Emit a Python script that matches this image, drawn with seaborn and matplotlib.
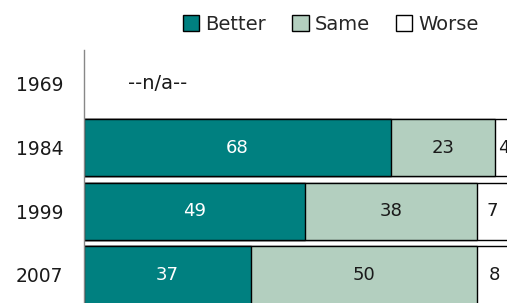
import numpy as np
import pandas as pd
import matplotlib
matplotlib.use("Agg")
import matplotlib.pyplot as plt
import seaborn as sns
from matplotlib.patches import Patch

# Data
years = ["1969", "1984", "1999", "2007"]
better = [np.nan, 68, 49, 37]
same = [np.nan, 23, 38, 50]
worse = [np.nan, 4, 7, 8]

c_better = "#008080"
c_same = "#b3cfbf"
c_worse = "#ffffff"

sns.set_theme(style="white")
plt.rcParams["font.family"] = ["DejaVu Sans"]

df = pd.DataFrame({"year": years, "better": better, "same": same, "worse": worse})
df["cum_same"] = df["better"] + df["same"]
df["cum_worse"] = df["cum_same"] + df["worse"]

fig = plt.figure(figsize=(5.07, 3.03), dpi=100)
ax = fig.add_axes([84 / 507, 0.0, 1 - 84 / 507, 1 - 50 / 303])

# stacked bars: draw cumulative totals back to front
for col, color in [("cum_worse", c_worse), ("cum_same", c_same), ("better", c_better)]:
    sns.barplot(data=df, x=col, y="year", order=years, color=color, orient="h",
                width=0.9, edgecolor="black", linewidth=1, saturation=1, ax=ax, errorbar=None)

# value labels
for i, row in df.iterrows():
    if np.isnan(row["better"]):
        ax.text(9.7, i, "--n/a--", va="center", ha="left", fontsize=14, color="#1a1a1a")
        continue
    ax.text(row["better"] / 2, i, f"{row['better']:.0f}", ha="center", va="center",
            color="white", fontsize=13)
    ax.text(row["better"] + row["same"] / 2, i, f"{row['same']:.0f}", ha="center",
            va="center", color="#1a1a1a", fontsize=13)
    ax.text(row["cum_same"] + row["worse"] / 2, i, f"{row['worse']:.0f}", ha="center",
            va="center", color="#1a1a1a", fontsize=13)

ax.set_xlim(0, 93.7)
ax.set_ylim(3.44, -0.53)
ax.set_xlabel("")
ax.set_ylabel("")
ax.set_xticks([])
ax.tick_params(axis="y", length=0, pad=15, labelsize=13.5, labelcolor="#1a1a1a")
for s in ["top", "right", "bottom"]:
    ax.spines[s].set_visible(False)
ax.spines["left"].set_color("#888888")
ax.spines["left"].set_linewidth(1)

handles = [Patch(facecolor=c, edgecolor="black", linewidth=1) for c in [c_better, c_same, c_worse]]
fig.legend(handles, ["Better", "Same", "Worse"], loc="upper left", bbox_to_anchor=(171 / 507, 0.99),
           ncol=3, frameon=False, fontsize=14, handlelength=0.85, handleheight=0.85,
           handletextpad=0.3, columnspacing=1.35, borderaxespad=0.2)

fig.savefig("out.png", dpi=100)
